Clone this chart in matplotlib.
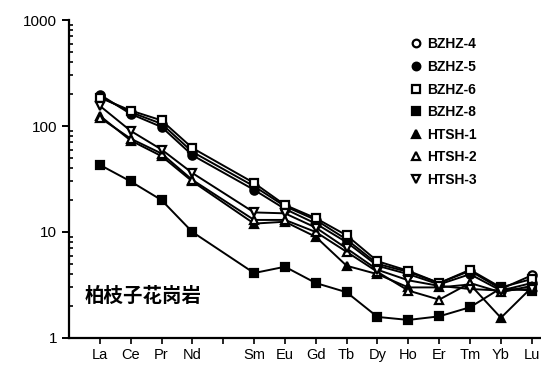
import numpy as np
from matplotlib import pyplot as plt
from matplotlib.lines import Line2D

plt.rcParams['font.family'] = ['Liberation Sans', 'DejaVu Sans']

elementos = ["La", "Ce", "Pr", "Nd", "Pm", "Sm", "Eu", "Gd", "Tb", "Dy", "Ho", "Er", "Tm", "Yb", "Lu"]
# Pm nao foi medido: fica so o traco no eixo
ree = ["La", "Ce", "Pr", "Nd", "Sm", "Eu", "Gd", "Tb", "Dy", "Ho", "Er", "Tm", "Yb", "Lu"]

bzhz4 = [190, 135, 105, 57, 27, 17.5, 13, 8.5, 5.0, 4.2, 3.3, 4.3, 2.9, 3.9]
bzhz5 = [198, 130, 98, 53, 25, 16.5, 12, 8.0, 4.8, 4.0, 3.2, 4.0, 2.8, 3.3]
bzhz6 = [185, 140, 113, 62, 29, 18, 13.5, 9.3, 5.3, 4.3, 3.3, 4.4, 3.0, 3.6]
bzhz8 = [43, 30, 20, 10, 4.1, 4.7, 3.3, 2.7, 1.58, 1.48, 1.6, 1.95, 2.95, 2.8]
htsh1 = [125, 73, 52, 30, 12, 12.5, 9, 4.8, 4.0, 3.0, 3.0, 3.2, 1.55, 3.0]
htsh2 = [120, 76, 55, 31, 13, 13, 10, 6.5, 4.2, 2.8, 2.3, 3.3, 2.7, 3.1]
htsh3 = [155, 90, 60, 36, 15.3, 15, 11, 7.0, 4.4, 3.5, 3.1, 2.9, 2.8, 2.9]

nomes = ["BZHZ-4", "BZHZ-5", "BZHZ-6", "BZHZ-8", "HTSH-1", "HTSH-2", "HTSH-3"]
series = [bzhz4, bzhz5, bzhz6, bzhz8, htsh1, htsh2, htsh3]
marcadores = ["o", "o", "s", "s", "^", "^", "v"]
preenchido = [False, True, False, True, True, False, False]

x = [elementos.index(e) for e in ree]

fig = plt.figure(figsize=(5.41, 3.71), dpi=100)
ax = fig.add_axes([0.1275, 0.089, 0.8725, 0.857])

handles = []
for nome, y, m, f in zip(nomes, series, marcadores, preenchido):
    cor = "black" if f else "white"
    ax.plot(x, y, color="black", lw=1.4, marker=m, ms=6,
            mfc=cor, mec="black", mew=1.6)
    handles.append(Line2D([], [], ls="none", marker=m, ms=5.5, mfc=cor,
                          mec="black", mew=1.6))

ax.set_yscale("log")
ax.set_ylim(1, 1000)
ax.set_xlim(-1.0, 14.3)
ax.set_yticks([1, 10, 100, 1000])
ax.set_yticklabels(["1", "10", "100", "1000"], fontsize=11)
ax.set_xticks(range(len(elementos)))
ax.set_xticklabels([e if e != "Pm" else "" for e in elementos], fontsize=10.5)

ax.spines["top"].set_visible(False)
ax.spines["right"].set_visible(False)
ax.spines["left"].set_linewidth(1.6)
ax.spines["bottom"].set_linewidth(1.6)
ax.tick_params(axis="y", which="major", direction="out", length=5, width=1.4)
ax.tick_params(axis="y", which="minor", direction="in", length=3, width=1.2)
ax.tick_params(axis="x", direction="out", length=4, width=1.2, pad=3)

ax.text(-0.5, 2.44, "柏枝子花岗岩", fontsize=14, fontweight="bold",
        family=["Noto Sans CJK SC", "DejaVu Sans"], va="center")

ax.legend(handles, nomes, loc="upper left", bbox_to_anchor=(0.695, 0.985),
          frameon=False, handletextpad=0.3, handlelength=1.0, labelspacing=0.62,
          prop={"size": 10, "weight": "bold"})

plt.savefig("out.png", dpi=100)
